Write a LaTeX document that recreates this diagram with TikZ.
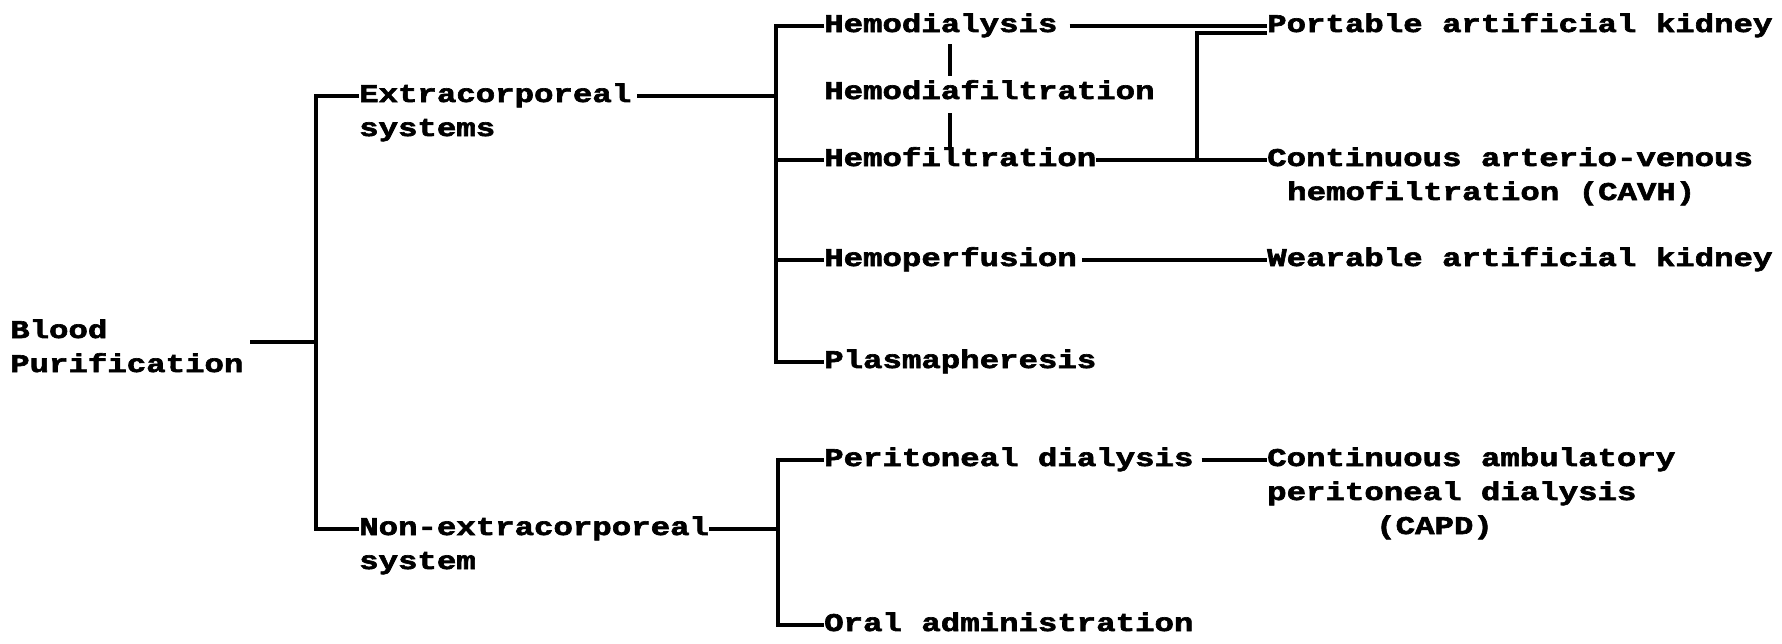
\documentclass[tikz,border=0pt]{standalone}
\usepackage{fontspec}
\newfontfamily\tw{Liberation Mono}[FakeStretch=1.27,BoldFeatures={FakeBold=2.5}]
\begin{document}
\begin{tikzpicture}[x=1pt,y=-1pt,
  lbl/.style={anchor=west,inner sep=0pt,font=\tw\bfseries\fontsize{25.5}{34}\selectfont,text height=18pt,text depth=6pt},
  conn/.style={line width=3.5pt,line cap=butt,line join=miter}]
\useasboundingbox[fill=white] (0,0) rectangle (1782,643);
% column 0
\node[lbl] (bp)  at (10,332) {Blood};
\node[lbl] (bp2) at (10,366) {Purification};
% column 1
\node[lbl] (ext)  at (359,96)  {Extracorporeal};
\node[lbl] (ext2) at (359,130) {systems};
\node[lbl] (non)  at (359,529) {Non-extracorporeal};
\node[lbl] (non2) at (359,563) {system};
% column 2
\node[lbl] (hd)  at (824,26)  {Hemodialysis};
\node[lbl] (hdf) at (824,93)  {Hemodiafiltration};
\node[lbl] (hf)  at (824,160) {Hemofiltration};
\node[lbl] (hp)  at (824,260) {Hemoperfusion};
\node[lbl] (pl)  at (824,362) {Plasmapheresis};
\node[lbl] (pd)  at (824,460) {Peritoneal dialysis};
\node[lbl] (oa)  at (824,625) {Oral administration};
% column 3
\node[lbl] (pak)   at (1267,26)  {Portable artificial kidney};
\node[lbl] (cavh)  at (1267,160) {Continuous arterio-venous};
\node[lbl] (cavh2) at (1287,194) {hemofiltration (CAVH)};
\node[lbl] (wak)   at (1267,260) {Wearable artificial kidney};
\node[lbl] (capd)  at (1267,460) {Continuous ambulatory};
\node[lbl] (capd2) at (1267,494) {peritoneal dialysis};
\node[lbl] (capd3) at (1376,528) {(CAPD)};
% junction coordinates
\coordinate (bpout) at (250,342);
\coordinate (tr) at (316,0);
\coordinate (bA) at (776,0);
\coordinate (bC) at (778,0);
\coordinate (bB) at (1197,0);
% trunk
\draw[conn] (bpout) -- (bpout -| tr);
\draw[conn] (ext.west) -| (tr |- non.west) -- (non.west);
% extracorporeal bracket
\draw[conn] ([xshift=6pt]ext.east) -- (ext.east -| bA);
\draw[conn] (hd.west) -| (bA |- pl.west) -- (pl.west);
\draw[conn] (hf.west) -- (hf.west -| bA);
\draw[conn] (hp.west) -- (hp.west -| bA);
% hemodialysis - hemodiafiltration - hemofiltration
\draw[conn] (950,44) -- (950,76);
\draw[conn] (950,113) -- (950,148);
% to third column
\draw[conn] ([xshift=12pt]hd.east) -- (pak.west);
\draw[conn] (hf.east) -- (cavh.west);
\draw[conn] (bB |- hf.east) -- (bB |- 0,33) -- (pak.west |- 0,33);
\draw[conn] ([xshift=5pt]hp.east) -- (wak.west);
% non-extracorporeal bracket
\draw[conn] (non.east) -- (non.east -| bC);
\draw[conn] (pd.west) -| (bC |- oa.west) -- (oa.west);
\draw[conn] ([xshift=8pt]pd.east) -- (capd.west);
\end{tikzpicture}
\end{document}
